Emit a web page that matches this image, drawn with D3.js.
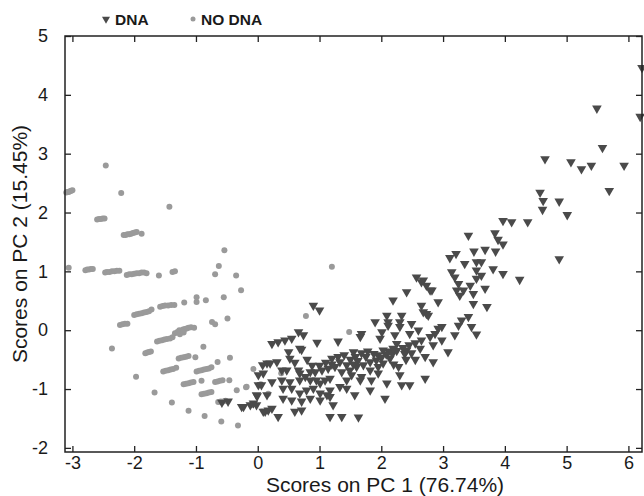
<!DOCTYPE html>
<html>
<head>
<meta charset="utf-8">
<script src="https://cdn.jsdelivr.net/npm/d3@7"></script>
<style>
  body { margin: 0; background: #fff; }
  svg text { font-family: "Liberation Sans", Arial, sans-serif; fill: #1a1a1a; }
</style>
</head>
<body>
<script>
// series names
var seriesNames = ["DNA", "NO DNA"];

// tick values
var xTicks = [-3, -2, -1, 0, 1, 2, 3, 4, 5, 6];
var yTicks = [-2, -1, 0, 1, 2, 3, 4, 5];

// scores [PC1, PC2]
var dnaScores = [
  [0.08,-0.59],[0.15,-0.56],[0.01,-0.93],[-0.01,-1.12],[0.15,-1.10],[-0.48,-1.21],[-0.58,-1.23],
  [-0.26,-1.30],[-0.12,-1.27],[-0.07,-1.24],[0.12,-1.38],[-0.02,-1.27],[-0.23,-1.30],[0.09,-1.38],
  [0.17,-1.36],[0.23,-1.33],[-0.02,-1.10],[0.06,-0.93],
  [0.33,-1.47],[0.60,-1.38],[0.71,-1.36],[1.17,-1.47],[1.36,-1.47],[1.63,-1.48],[1.22,-1.27],
  [0.41,-1.16],[0.55,-1.19],[0.71,-1.21],[0.85,-1.16],[1.01,-1.19],[1.17,-1.13],[1.12,-1.10],
  [1.01,-1.07],[0.68,-1.07],[2.06,-1.16],[1.57,-1.10],
  [0.41,-0.99],[0.55,-0.99],[0.79,-1.02],[0.90,-0.99],[1.17,-1.02],[1.33,-0.96],[1.44,-0.99],
  [1.82,-1.02],[2.09,-0.90],[2.33,-0.93],[2.46,-0.93],[2.71,-0.82],[2.30,-0.76],
  [0.23,-0.88],[0.39,-0.85],[0.52,-0.88],[0.68,-0.85],[0.85,-0.85],[0.95,-0.85],[1.09,-0.85],
  [1.17,-0.82],[1.01,-0.90],[1.44,-0.85],[1.52,-0.76],[1.68,-0.79],[1.84,-0.85],[1.66,-0.85],
  [1.95,-0.73],[1.82,-0.68],
  [0.01,-0.76],[0.09,-0.73],[0.39,-0.68],[0.47,-0.68],[0.66,-0.68],[0.68,-0.73],[0.77,-0.79],
  [0.85,-0.71],[0.93,-0.71],[1.04,-0.68],[1.14,-0.65],[1.25,-0.62],[1.36,-0.71],[1.49,-0.68],
  [1.60,-0.62],[1.71,-0.59],[1.82,-0.54],[1.92,-0.51],[2.03,-0.56],[2.14,-0.48],[2.28,-0.62],
  [0.20,-0.56],[0.31,-0.54],[1.33,-0.54],[1.44,-0.59],[0.52,-0.48],[1.20,-0.48],
  [1.30,-0.45],[1.40,-0.42],[1.50,-0.50],[1.58,-0.45],[1.62,-0.52],[1.75,-0.45],[1.78,-0.36],
  [1.88,-0.40],[1.95,-0.42],[2.00,-0.47],[2.08,-0.41],[2.12,-0.36],[2.18,-0.40],[2.25,-0.35],
  [2.35,-0.30],[2.38,-0.40],[2.45,-0.25],[2.55,-0.22],[1.10,-0.55],[1.20,-0.58],[1.00,-0.60],
  [0.88,-0.60],[1.55,-0.58],[1.95,-0.62],[2.40,-0.50],[0.60,-0.55],[0.80,-0.50],[2.55,-0.50],
  [2.20,-0.58],
  [0.50,-0.37],[0.68,-0.31],[0.71,-0.33],[1.55,-0.37],[1.68,-0.39],[2.03,-0.34],[2.19,-0.31],
  [2.41,-0.34],[2.49,-0.39],[2.63,-0.31],[2.71,-0.45],[2.84,-0.54],[3.08,-0.37],[2.25,-0.23],
  [2.84,-0.25],[2.65,-0.17],[2.98,-0.17],[1.98,-0.14],
  [0.23,-0.23],[0.33,-0.20],[0.44,-0.17],[0.55,-0.14],[0.66,-0.03],[0.74,-0.08],[0.96,-0.21],
  [1.30,-0.19],[1.66,-0.11],[1.68,-0.06],[2.01,-0.03],[2.22,-0.08],[2.46,-0.06],[2.60,0.00],
  [2.87,-0.06],[2.79,-0.11],[3.19,-0.08],[3.54,-0.07],
  [0.90,0.42],[1.00,0.34],[1.90,0.14],[2.11,0.14],[2.30,0.14],[2.49,0.11],[2.98,0.06],
  [2.09,0.25],[2.33,0.25],[2.73,0.28],[2.11,0.08],[2.30,0.06],[2.92,0.03],[3.25,0.08],
  [3.46,0.06],[3.30,0.17],[3.41,0.23],[2.68,0.31],[2.76,0.25],
  [2.19,0.51],[2.41,0.65],[2.65,0.42],[2.92,0.48],[2.57,0.90],[2.68,0.85],[2.73,0.76],
  [2.82,0.68],[2.65,0.82],[2.79,0.68],
  [3.14,0.99],[3.19,0.90],[3.54,0.88],[3.62,0.93],[3.25,0.79],[3.33,0.68],[3.44,0.76],
  [3.22,0.68],[3.27,0.59],[3.49,0.62],[3.68,0.71],[3.49,0.45],[3.71,0.40],
  [3.21,1.30],[3.11,1.23],[3.35,1.13],[3.54,1.16],[3.62,1.16],[3.54,1.02],[3.81,1.04],
  [3.97,0.96],[3.50,1.34],[3.68,1.37],[3.85,1.34],[4.24,0.86],
  [3.41,1.61],[3.84,1.65],[3.89,1.54],[3.97,1.46],[3.97,1.86],[4.11,1.84],[4.37,1.84],
  [4.57,2.34],[4.62,2.20],[4.61,2.05],[4.88,2.19],[5.01,1.96],[4.88,1.21],[4.65,2.91],
  [5.07,2.86],[5.24,2.74],[5.40,2.80],[5.93,2.80],[5.69,2.37],[5.58,3.10],[5.49,3.77],
  [6.19,3.63],[6.22,4.46]
];

var noDnaScores = [
  [-3.10,2.34],[-3.08,2.35],[-3.06,2.35],[-3.04,2.36],[-3.02,2.37],[-3.00,2.38],
  [-2.46,2.80],[-2.21,2.33],[-1.43,2.10],
  [-2.60,1.88],[-2.57,1.89],[-2.54,1.89],[-2.51,1.90],[-2.48,1.90],
  [-2.17,1.62],[-2.14,1.62],[-2.11,1.63],[-2.08,1.63],[-2.05,1.64],[-2.02,1.65],[-1.99,1.66],
  [-1.96,1.67],[-1.88,1.64],
  [-3.06,1.06],
  [-2.79,1.02],[-2.76,1.03],[-2.73,1.03],[-2.70,1.04],[-2.67,1.04],
  [-2.47,0.98],[-2.44,0.99],[-2.40,0.99],[-2.36,1.00],[-2.32,1.00],[-2.28,1.01],[-2.24,1.01],
  [-2.12,0.94],[-2.08,0.95],[-2.04,0.95],[-2.00,0.96],[-1.96,0.97],[-1.92,0.97],[-1.88,0.98],
  [-1.84,0.98],[-1.80,0.97],
  [-1.60,0.93],[-1.38,0.99],[-1.34,1.00],
  [-0.69,0.95],[-0.63,1.09],[-0.54,1.36],[-0.35,0.93],[-0.27,0.68],
  [-2.23,0.09],[-2.19,0.10],[-2.15,0.11],[-2.11,0.11],
  [-2.36,-0.31],
  [-2.00,0.26],[-1.96,0.27],[-1.92,0.28],[-1.88,0.29],[-1.84,0.30],[-1.80,0.31],[-1.76,0.32],
  [-1.72,0.35],
  [-1.58,0.40],[-1.54,0.41],[-1.50,0.42],[-1.45,0.42],[-1.40,0.43],[-1.35,0.43],
  [-1.19,0.47],[-0.99,0.48],[-0.99,0.56],[-0.84,0.51],[-0.55,0.56],[-0.49,0.20],[-0.74,0.14],
  [-0.69,0.10],
  [-1.34,-0.05],[-1.30,-0.03],[-1.27,0.00],[-1.24,-0.02],[-1.21,0.01],[-1.18,0.02],[-1.15,0.03],
  [-1.12,0.04],[-1.08,0.05],[-1.03,0.04],[-1.26,-0.07],[-1.20,-0.04],
  [-1.63,-0.19],[-1.59,-0.18],[-1.55,-0.17],[-1.51,-0.16],[-1.47,-0.15],[-1.42,-0.14],[-1.38,-0.12],
  [-0.88,-0.28],
  [-1.82,-0.39],[-1.79,-0.38],[-1.76,-0.37],[-1.73,-0.36],
  [-1.28,-0.48],[-1.24,-0.47],[-1.20,-0.46],[-1.16,-0.45],[-1.12,-0.44],
  [-1.01,-0.46],[-0.45,-0.47],[-0.65,-0.54],
  [-1.97,-0.79],
  [-1.53,-0.70],[-1.49,-0.69],[-1.45,-0.68],[-1.41,-0.67],[-1.37,-0.66],[-1.32,-0.64],
  [-0.99,-0.70],[-0.95,-0.69],[-0.91,-0.68],[-0.87,-0.67],[-0.83,-0.66],[-0.79,-0.65],[-0.75,-0.63],
  [-0.07,-0.66],
  [-1.20,-0.92],[-1.16,-0.91],[-1.12,-0.90],[-1.08,-0.89],[-1.04,-0.88],
  [-0.91,-0.86],
  [-0.69,-0.88],[-0.65,-0.87],[-0.61,-0.86],[-0.57,-0.85],
  [-0.46,-0.85],[-0.18,-0.96],[-0.34,-1.02],
  [-1.67,-1.06],
  [-0.91,-1.09],[-0.87,-1.08],[-0.83,-1.07],[-0.79,-1.06],[-0.75,-1.05],
  [-1.39,-1.23],
  [-0.64,-1.22],[-0.60,-1.21],[-0.56,-1.21],[-0.52,-1.20],
  [-1.12,-1.37],[-0.86,-1.46],[-0.59,-1.55],[-0.32,-1.62],
  [1.20,1.08],[1.48,-0.03],[0.78,0.24],[0.38,-0.73],[0.17,-1.08],[-0.10,-1.27],[0.05,-0.92],
  [-0.19,-0.97]
];

var width = 644,
    height = 496,
    margin = {left: 65, right: 642, top: 36, bottom: 452},
    tickLen = 6,
    dnaColor = "#4a4a4a",
    noDnaColor = "#9a9a9a";

var svg = d3.select("body").append("svg")
    .attr("width", width)
    .attr("height", height);

var x = d3.scaleLinear().domain([-3.12, 6.22]).range([margin.left, margin.right]);
var y = d3.scaleLinear().domain([-2.07, 5]).range([margin.bottom, margin.top]);

var plot = svg.append("g");

// no-dna circles under the triangles
plot.selectAll("circle.nodna")
    .data(noDnaScores)
    .enter()
    .append("circle")
    .attr("class", "nodna")
    .attr("cx", function(d) { return x(d[0]); })
    .attr("cy", function(d) { return y(d[1]); })
    .attr("r", 3)
    .attr("fill", noDnaColor);

var tri = d3.symbol().type(d3.symbolTriangle).size(40);

plot.selectAll("path.dna")
    .data(dnaScores)
    .enter()
    .append("path")
    .attr("class", "dna")
    .attr("d", tri)
    .attr("transform", function(d) {
        return "translate(" + x(d[0]) + "," + y(d[1]) + ") rotate(180)";
    })
    .attr("fill", dnaColor);

// axes, ticks pointing inward on all four sides
var fmt = function(d) { return String(d); };
var axisStyle = function(g) {
    g.select(".domain").remove();
    g.selectAll("line").attr("stroke", "#222").attr("stroke-width", 1.3);
    g.selectAll("text").attr("font-size", "18px").attr("fill", "#1a1a1a");
};

svg.append("g")
    .attr("transform", "translate(0," + margin.bottom + ")")
    .call(d3.axisBottom(x).tickValues(xTicks).tickSizeInner(-tickLen).tickSizeOuter(0)
        .tickPadding(4).tickFormat(fmt))
    .call(axisStyle);

svg.append("g")
    .attr("transform", "translate(0," + margin.top + ")")
    .call(d3.axisTop(x).tickValues(xTicks).tickSizeInner(-tickLen).tickSizeOuter(0).tickFormat(""))
    .call(axisStyle);

svg.append("g")
    .attr("transform", "translate(" + margin.left + ",0)")
    .call(d3.axisLeft(y).tickValues(yTicks).tickSizeInner(-tickLen).tickSizeOuter(0)
        .tickPadding(17).tickFormat(fmt))
    .call(axisStyle);

svg.append("g")
    .attr("transform", "translate(" + margin.right + ",0)")
    .call(d3.axisRight(y).tickValues(yTicks).tickSizeInner(-tickLen).tickSizeOuter(0).tickFormat(""))
    .call(axisStyle);

svg.append("rect")
    .attr("x", margin.left)
    .attr("y", margin.top)
    .attr("width", margin.right - margin.left)
    .attr("height", margin.bottom - margin.top)
    .attr("fill", "none")
    .attr("stroke", "#222")
    .attr("stroke-width", 1.5);

// axis titles
svg.append("text")
    .attr("x", 385)
    .attr("y", 492)
    .attr("text-anchor", "middle")
    .attr("font-size", "21px")
    .text("Scores on PC 1 (76.74%)");

svg.append("text")
    .attr("transform", "translate(27,244) rotate(-90)")
    .attr("text-anchor", "middle")
    .attr("font-size", "21px")
    .text("Scores on PC 2 (15.45%)");

// legend
var legend = svg.append("g");
legend.append("path")
    .attr("d", d3.symbol().type(d3.symbolTriangle).size(28))
    .attr("transform", "translate(106,19) rotate(180)")
    .attr("fill", dnaColor);
legend.append("text")
    .attr("x", 115).attr("y", 25)
    .attr("font-size", "15.5px").attr("font-weight", "bold")
    .text(seriesNames[0]);
legend.append("circle")
    .attr("cx", 193).attr("cy", 19).attr("r", 2.5)
    .attr("fill", noDnaColor);
legend.append("text")
    .attr("x", 201).attr("y", 25)
    .attr("font-size", "15.5px").attr("font-weight", "bold")
    .text(seriesNames[1]);
</script>
</body>
</html>
